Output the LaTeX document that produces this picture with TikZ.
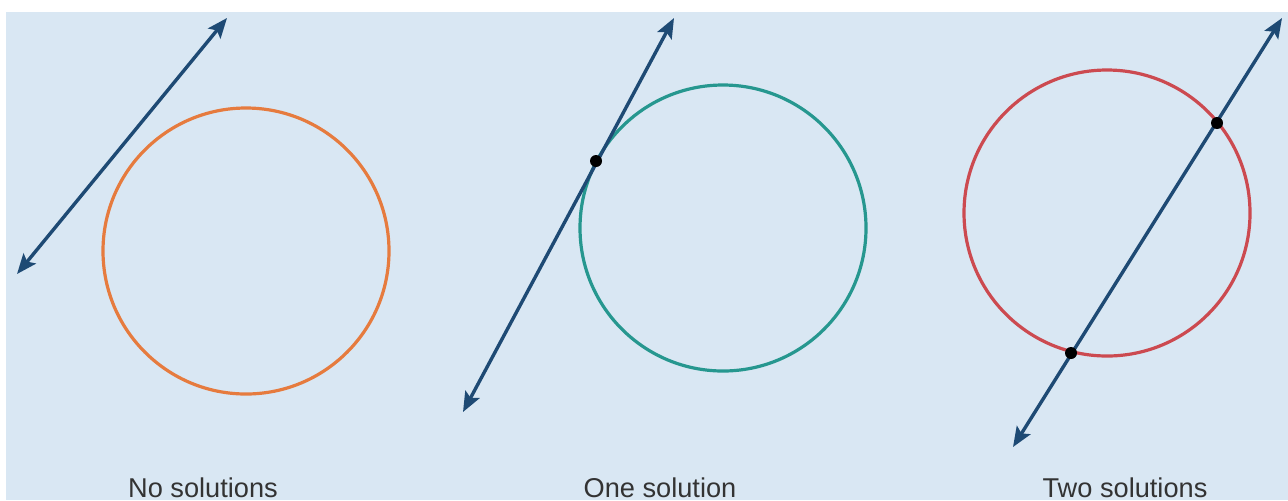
\documentclass[tikz,border=0pt]{standalone}
\usepackage{fontspec}
\setmainfont{Liberation Sans}
\usetikzlibrary{arrows.meta}

\definecolor{bgblue}{HTML}{D9E7F3}
\definecolor{linenavy}{HTML}{1E4A74}
\definecolor{circorange}{HTML}{E67B3E}
\definecolor{circteal}{HTML}{26978F}
\definecolor{circred}{HTML}{CC4A50}
\definecolor{labgray}{HTML}{333333}

\tikzstyle{secant} = [draw = linenavy, line width = 1.7pt, {Stealth[length=10pt,width=8pt,inset=2pt]}-{Stealth[length=10pt,width=8pt,inset=2pt]}]
\tikzstyle{ring} = [line width = 1.6pt]
\tikzstyle{label} = [anchor = base, text = labgray, font = \fontsize{13.6}{16}\selectfont]
\tikzstyle{hit} = [fill = black]

\begin{document}
\begin{tikzpicture}[x = 0.5pt, y = -0.5pt]
		\useasboundingbox (0, 0) rectangle (1288, 500);
		\fill [white] (0, 0) rectangle (1288, 500);
		\fill [bgblue] (6, 12) rectangle (1288, 500);

		% no solutions
		\coordinate (c1) at (246, 251);
		\coordinate (a1) at (17, 274);
		\coordinate (b1) at (227, 18);
		\draw [ring, circorange] (c1) circle [radius = 71.5pt];
		\draw [secant] (a1) -- (b1);
		\node [label] at (203, 497) (l1) {No solutions};

		% one solution
		\coordinate (c2) at (723, 228);
		\coordinate (a2) at (463, 412);
		\coordinate (b2) at (674, 18);
		\coordinate (p2) at (596, 161);
		\draw [ring, circteal] (c2) circle [radius = 71.5pt];
		\draw [secant] (a2) -- (b2);
		\fill [hit] (p2) circle [radius = 3pt];
		\node [label] at (660, 497) (l2) {One solution};

		% two solutions
		\coordinate (c3) at (1107, 213);
		\coordinate (a3) at (1013, 447);
		\coordinate (b3) at (1282, 18);
		\coordinate (p3) at (1217, 123);
		\coordinate (q3) at (1071, 353);
		\draw [ring, circred] (c3) circle [radius = 71.5pt];
		\draw [secant] (a3) -- (b3);
		\fill [hit] (p3) circle [radius = 3pt];
		\fill [hit] (q3) circle [radius = 3pt];
		\node [label] at (1125, 497) (l3) {Two solutions};
	\end{tikzpicture}
\end{document}
